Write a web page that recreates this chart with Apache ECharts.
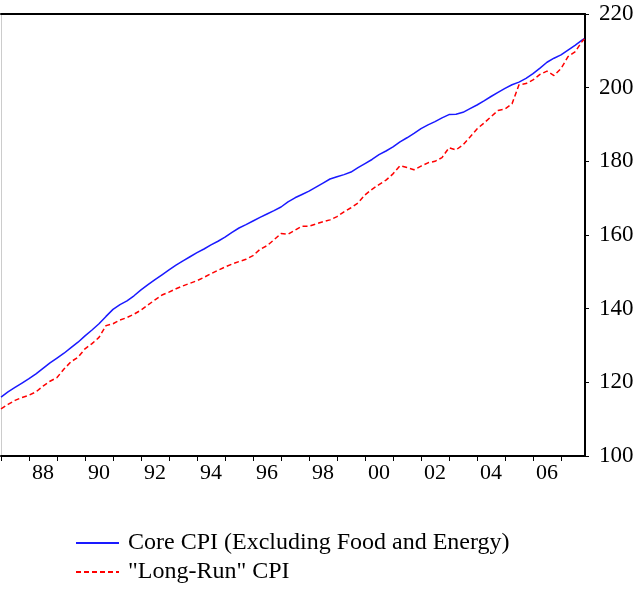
<!DOCTYPE html>
<html>
<head>
<meta charset="utf-8">
<script src="https://cdn.jsdelivr.net/npm/echarts@6/dist/echarts.min.js"></script>
<style>
  html, body { margin: 0; padding: 0; background: #fff; }
  #chart { width: 639px; height: 598px; }
</style>
</head>
<body>
<div id="chart"></div>
<script>
// quarterly readings (Jan/Apr/Jul/Oct), last one is Nov 2007
const periods = [];
for (let y = 1987; y <= 2007; y++) {
	["01", "04", "07", "10"].forEach((m) => periods.push(y + "-" + m));
}
periods.push("2007-11");

const coreCPI = [
	116.0, 117.4, 118.6, 119.8, 121.0, 122.3, 123.8, 125.3,
	126.6, 127.9, 129.4, 130.9, 132.6, 134.2, 135.9, 137.9,
	139.8, 141.1, 142.1, 143.5, 145.1, 146.5, 147.9, 149.2,
	150.5, 151.8, 153.0, 154.1, 155.2, 156.2, 157.3, 158.3,
	159.4, 160.7, 161.9, 162.8, 163.8, 164.8, 165.7, 166.6,
	167.6, 169.0, 170.1, 171.0, 171.9, 173.0, 174.1, 175.2,
	175.8, 176.4, 177.1, 178.3, 179.4, 180.5, 181.8, 182.8,
	183.9, 185.3, 186.4, 187.6, 188.9, 189.9, 190.8, 191.8,
	192.7, 192.8, 193.3, 194.3, 195.3, 196.4, 197.6, 198.7,
	199.8, 200.8, 201.5, 202.5, 203.8, 205.3, 206.9, 208.0,
	208.9, 210.2, 211.5, 212.9, 213.3
];
const longRunCPI = [
	112.8, 114.0, 115.1, 115.9, 116.5, 117.4, 119.0, 120.3,
	121.3, 123.6, 125.6, 126.8, 129.1, 130.5, 132.2, 135.4,
	135.9, 136.9, 137.6, 138.5, 139.6, 141.0, 142.4, 143.7,
	144.5, 145.4, 146.2, 146.9, 147.6, 148.5, 149.5, 150.4,
	151.3, 152.1, 152.8, 153.4, 154.4, 156.1, 157.1, 158.7,
	160.4, 160.2, 161.3, 162.4, 162.4, 163.0, 163.6, 164.1,
	165.0, 166.3, 167.4, 168.7, 170.9, 172.4, 173.7, 174.9,
	176.6, 178.8, 178.3, 177.7, 178.7, 179.6, 180.0, 181.0,
	183.7, 183.1, 184.5, 186.6, 188.8, 190.4, 192.1, 193.8,
	194.2, 195.6, 200.8, 201.1, 202.1, 203.6, 204.5, 203.3,
	205.2, 208.4, 209.7, 212.5, 213.2
];

const yearTicks = [];
for (let y = 1987; y <= 2007; y++) yearTicks.push(y);
const yearLabels = [1988, 1990, 1992, 1994, 1996, 1998, 2000, 2002, 2004, 2006];

const toYear = (p) => {
	const [y, m] = p.split("-").map(Number);
	return y + (m - 1) / 12;
};
const pairs = (vals) => periods.map((p, i) => [toYear(p), vals[i]]);

const font = "Liberation Serif";
const chart = echarts.init(document.getElementById("chart"));
chart.setOption({
	animation: false,
	backgroundColor: "#fff",
	grid: { left: 1, right: 54, top: 14, bottom: 142 },
	legend: {
		orient: "vertical",
		left: 70,
		top: 526,
		itemWidth: 43,
		itemHeight: 14,
		itemGap: 5,
		itemStyle: { opacity: 0 },
		textStyle: { fontFamily: font, fontSize: 24, color: "#000", padding: [0, 0, 0, 4] },
		data: ["Core CPI (Excluding Food and Energy)", '"Long-Run" CPI']
	},
	xAxis: [
		{
			type: "value",
			min: 1987,
			max: 2007.857,
			axisLine: { show: true, onZero: false, lineStyle: { color: "#000", width: 2 } },
			axisTick: { show: true, length: 5, customValues: yearTicks, lineStyle: { color: "#000" } },
			axisLabel: {
				customValues: yearLabels.map((y) => y + 0.5),
				margin: 6,
				fontFamily: font,
				fontSize: 22,
				color: "#000",
				formatter: (v) => String(Math.floor(v) % 100).padStart(2, "0")
			},
			splitLine: { show: false }
		},
		{
			type: "value",
			position: "top",
			min: 1987,
			max: 2007.857,
			axisLine: { show: true, onZero: false, lineStyle: { color: "#000", width: 2 } },
			axisTick: { show: false },
			axisLabel: { show: false },
			splitLine: { show: false }
		}
	],
	yAxis: [
		{
			type: "value",
			position: "right",
			min: 100,
			max: 220,
			interval: 20,
			axisLine: { show: true, lineStyle: { color: "#000", width: 2 } },
			axisTick: { show: true, length: 4, lineStyle: { color: "#000" } },
			axisLabel: { margin: 14, fontFamily: font, fontSize: 23, color: "#000" },
			splitLine: { show: false }
		},
		{
			type: "value",
			position: "left",
			min: 100,
			max: 220,
			axisLine: { show: true, lineStyle: { color: "#ccc", width: 1 } },
			axisTick: { show: false },
			axisLabel: { show: false },
			splitLine: { show: false }
		}
	],
	series: [
		{
			name: "Core CPI (Excluding Food and Energy)",
			type: "line",
			data: pairs(coreCPI),
			showSymbol: false,
			symbol: "none",
			lineStyle: { color: "#1a1aff", width: 1.5 },
			itemStyle: { color: "#1a1aff" }
		},
		{
			name: '"Long-Run" CPI',
			type: "line",
			data: pairs(longRunCPI),
			showSymbol: false,
			symbol: "none",
			lineStyle: { color: "#ff0000", width: 1.5, type: [5, 3] },
			itemStyle: { color: "#ff0000" }
		}
	]
});
</script>
</body>
</html>
